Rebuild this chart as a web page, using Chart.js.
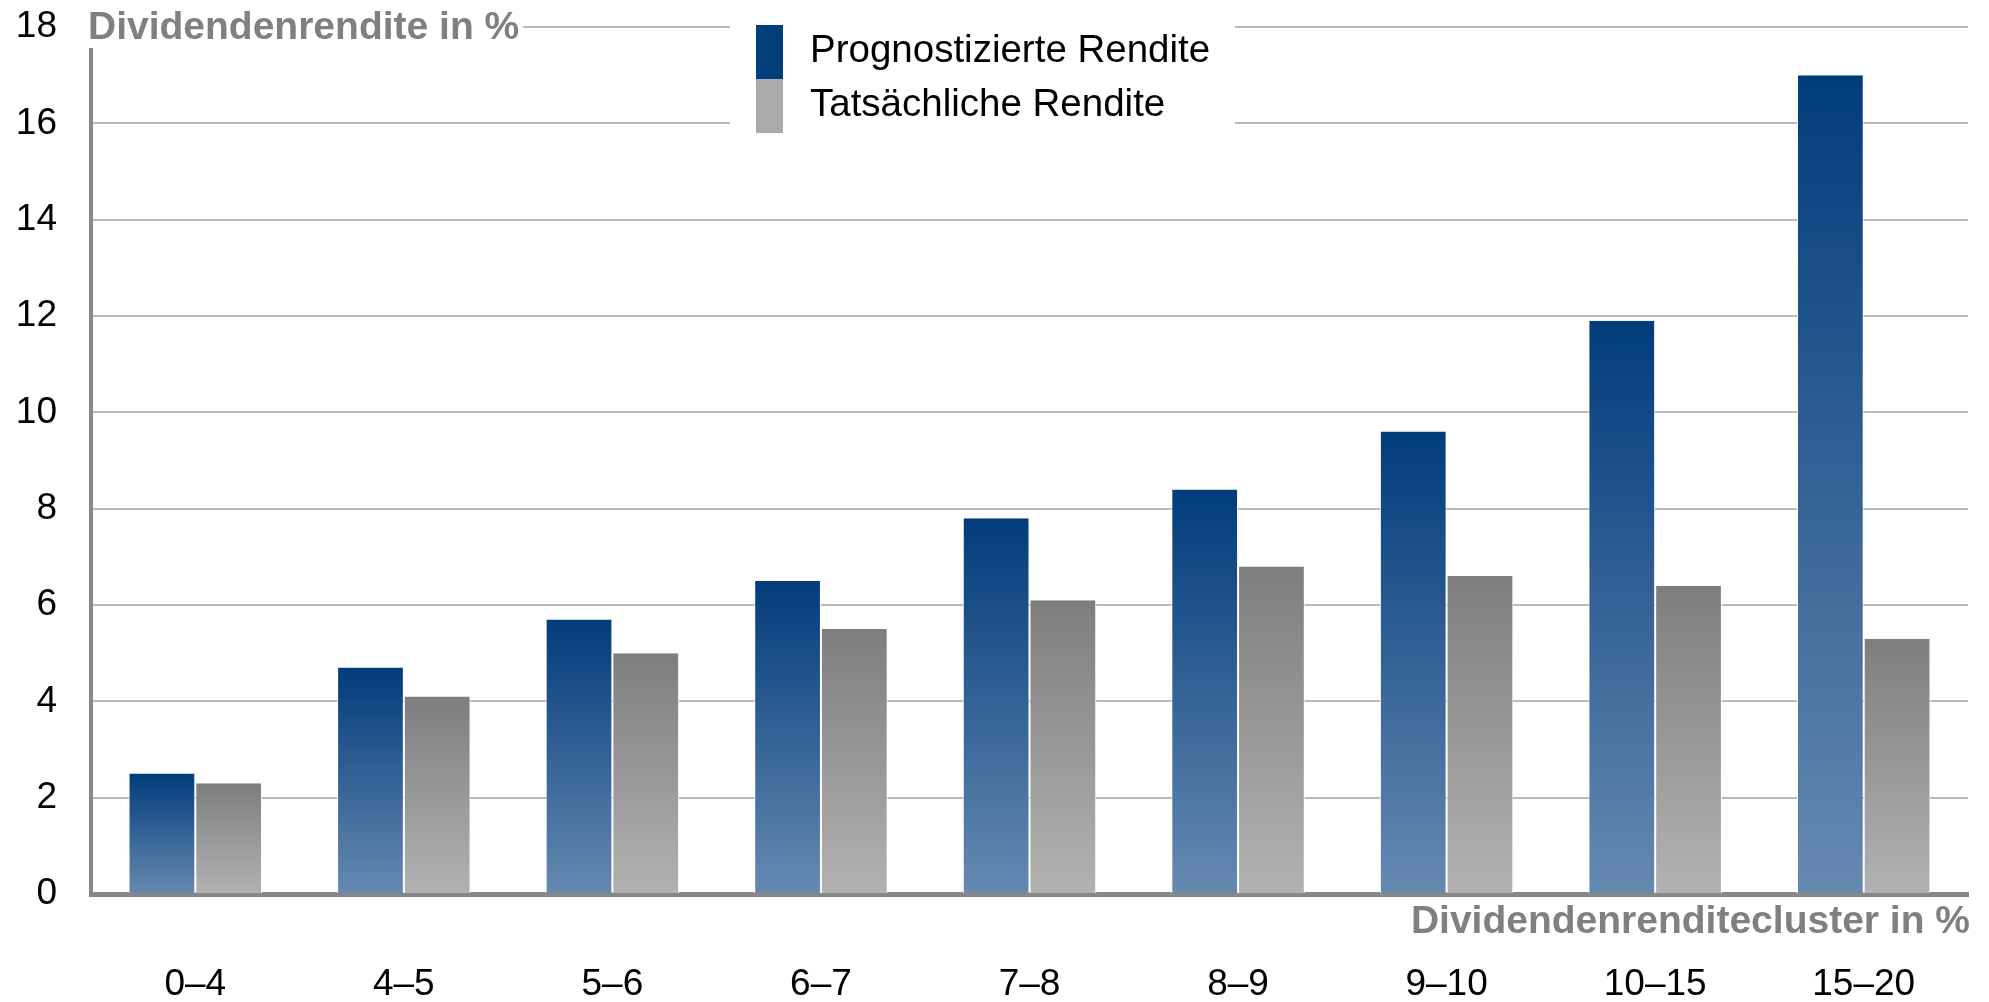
<!DOCTYPE html>
<html lang="de">
<head>
<meta charset="utf-8">
<title>Dividendenrendite</title>
<script src="https://cdn.jsdelivr.net/npm/chart.js@4.4.1/dist/chart.umd.min.js"></script>
<style>
  html, body { margin: 0; padding: 0; background: #fff; }
  #wrap { width: 1989px; height: 1002px; }
</style>
</head>
<body>
<div id="wrap"><canvas id="bar-chart" width="1989" height="1002"></canvas></div>
<script>
// data
const categories = ['0–4', '4–5', '5–6', '6–7', '7–8', '8–9', '9–10', '10–15', '15–20'];
const seriesNames = ['Prognostizierte Rendite', 'Tatsächliche Rendite'];
const prognoseValues = [2.5, 4.7, 5.7, 6.5, 7.8, 8.4, 9.6, 11.9, 17.0];
const actualValues = [2.3, 4.1, 5.0, 5.5, 6.1, 6.8, 6.6, 6.4, 5.3];
const yMin = 0, yMax = 18, yStep = 2;
const yTitle = 'Dividendenrendite in %';
const xTitle = 'Dividendenrenditecluster in %';

const FONT = "'Liberation Sans', Arial, Helvetica, sans-serif";
const BLUE = '#023d7c';
const GREY = '#aaaaaa';
const TITLE_GREY = '#808080';

// vertical gradient per bar, dark at the top
function barGradient(topColor, bottomColor) {
  return function (context) {
    if (context.type !== 'data') return topColor;
    const chart = context.chart;
    const y = chart.scales.y;
    if (!y || !chart.chartArea) return topColor;
    const yTop = y.getPixelForValue(context.raw);
    const yBase = y.getPixelForValue(0);
    if (!isFinite(yTop) || !isFinite(yBase) || yTop === yBase) return topColor;
    const g = chart.ctx.createLinearGradient(0, yTop, 0, yBase);
    g.addColorStop(0, topColor);
    g.addColorStop(1, bottomColor);
    return g;
  };
}

// titles + legend drawn on top, each on a white box that cuts the grid lines
const overlay = {
  id: 'overlay',
  afterDraw(chart) {
    const c = chart.ctx;
    const area = chart.chartArea;
    c.save();

    // y title
    c.font = 'bold 39px ' + FONT;
    const tw = c.measureText(yTitle).width;
    c.fillStyle = '#fff';
    c.fillRect(area.left - 4, 0, tw + 5, 48);
    c.fillStyle = TITLE_GREY;
    c.textAlign = 'left';
    c.textBaseline = 'middle';
    c.fillText(yTitle, area.left - 3, area.top + 1);

    // x title
    c.textAlign = 'right';
    c.fillText(xTitle, area.right + 2, 922);

    // legend
    const lx = 730, ly = 10;
    c.fillStyle = '#fff';
    c.fillRect(lx, ly, 505, 130);
    const colors = [BLUE, GREY];
    c.font = '38.5px ' + FONT;
    c.textAlign = 'left';
    seriesNames.forEach(function (name, i) {
      c.fillStyle = colors[i];
      c.fillRect(756, 25 + i * 54, 27, 54);
      c.fillStyle = '#000';
      c.fillText(name, 810, 51 + i * 54);
    });
    c.restore();
  }
};

const ctx = document.getElementById('bar-chart');
new Chart(ctx, {
  type: 'bar',
  data: {
    labels: categories,
    datasets: [{
      label: seriesNames[0],
      data: prognoseValues,
      backgroundColor: barGradient('#023c7b', '#6689b1'),
      borderColor: '#fff',
      borderWidth: { left: 1, right: 1, top: 0, bottom: 0 },
      borderSkipped: false
    }, {
      label: seriesNames[1],
      data: actualValues,
      backgroundColor: barGradient('#7e7e7e', '#b2b2b2'),
      borderColor: '#fff',
      borderWidth: { left: 1, right: 1, top: 0, bottom: 0 },
      borderSkipped: false
    }]
  },
  options: {
    responsive: false,
    animation: false,
    layout: { padding: { top: 27, right: 21, left: 0, bottom: 0 } },
    datasets: {
      bar: { barPercentage: 1, categoryPercentage: 0.64 }
    },
    plugins: {
      legend: { display: false },
      tooltip: { enabled: false }
    },
    scales: {
      x: {
        z: 1,
        grid: { display: false, drawTicks: false },
        border: { display: true, color: '#888888', width: 5 },
        ticks: {
          color: '#000',
          font: { family: FONT, size: 37 },
          padding: 69,
          maxRotation: 0
        },
        afterFit(scale) {
          scale.height = 108;
          scale.paddingLeft = 0;
          scale.paddingRight = 0;
        }
      },
      y: {
        z: 1,
        min: yMin,
        max: yMax,
        grid: {
          color: 'rgba(100, 100, 100, 0.45)',
          lineWidth: 2,
          drawTicks: false
        },
        border: { display: true, color: '#888888', width: 4 },
        ticks: {
          stepSize: yStep,
          color: '#000',
          font: { family: FONT, size: 37 },
          padding: 34
        },
        afterFit(scale) {
          scale.width = 91;
          scale.paddingTop = 0;
          scale.paddingBottom = 0;
        }
      }
    }
  },
  plugins: [overlay]
});
</script>
</body>
</html>
